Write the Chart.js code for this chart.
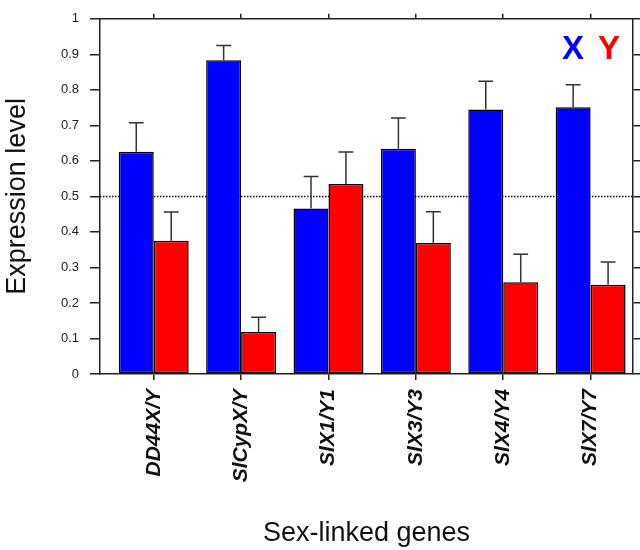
<!DOCTYPE html>
<html>
<head>
<meta charset="utf-8">
<script src="https://cdn.jsdelivr.net/npm/chart.js@4"></script>
<style>
  html, body { margin: 0; padding: 0; background: #ffffff; }
  #wrap { width: 640px; height: 550px; }
</style>
</head>
<body>
<div id="wrap"><canvas id="c" width="640" height="550"></canvas></div>
<script>
// ---- data ----
const CATEGORIES = ['DD44X/Y', 'SlCypX/Y', 'SlX1/Y1', 'SlX3/Y3', 'SlX4/Y4', 'SlX7/Y7'];
const SERIES_NAMES = ['X', 'Y'];
const X_VALUES = [0.626, 0.883, 0.466, 0.634, 0.745, 0.751];
const X_ERRORS = [0.081, 0.042, 0.090, 0.087, 0.079, 0.063];
const Y_VALUES = [0.375, 0.118, 0.535, 0.369, 0.258, 0.251];
const Y_ERRORS = [0.081, 0.042, 0.090, 0.088, 0.079, 0.064];
const Y_MIN = 0, Y_MAX = 1, Y_STEP = 0.1;
const REFERENCE_LEVEL = 0.5;
const Y_TITLE = 'Expression level';
const X_TITLE = 'Sex-linked genes';

const FONT = '"Liberation Sans", Arial, Helvetica, sans-serif';
const AXIS_COLOR = '#222222';

const ERRORS = [X_ERRORS, Y_ERRORS];
const VALUES = [X_VALUES, Y_VALUES];

const categoryTicks = (axis) => { axis.ticks = CATEGORIES.map((_, i) => ({ value: i })); };

const errorBarPlugin = {
  id: 'errorBars',
  afterDatasetsDraw(chart) {
    const ctx = chart.ctx;
    const yScale = chart.scales.y;
    ctx.save();
    ctx.strokeStyle = '#333333';
    ctx.lineWidth = 1.5;
    chart.data.datasets.forEach((ds, d) => {
      const meta = chart.getDatasetMeta(d);
      meta.data.forEach((bar, i) => {
        const top = yScale.getPixelForValue(VALUES[d][i] + ERRORS[d][i]);
        const half = 7.4;
        ctx.beginPath();
        ctx.moveTo(bar.x, bar.y);
        ctx.lineTo(bar.x, top);
        ctx.moveTo(bar.x - half, top);
        ctx.lineTo(bar.x + half, top);
        ctx.stroke();
      });
    });
    ctx.restore();
  }
};

const refLinePlugin = {
  id: 'refLine',
  beforeDatasetsDraw(chart) {
    const ctx = chart.ctx;
    const a = chart.chartArea;
    const y = chart.scales.y.getPixelForValue(REFERENCE_LEVEL);
    ctx.save();
    ctx.strokeStyle = '#111111';
    ctx.lineWidth = 1.5;
    ctx.setLineDash([1.5, 1.5]);
    ctx.beginPath();
    ctx.moveTo(a.left, y);
    ctx.lineTo(a.right, y);
    ctx.stroke();
    ctx.restore();
  }
};

const seriesKeyPlugin = {
  id: 'seriesKey',
  afterDraw(chart) {
    const ctx = chart.ctx;
    const a = chart.chartArea;
    ctx.save();
    ctx.font = 'bold 33px ' + FONT;
    ctx.textAlign = 'right';
    ctx.textBaseline = 'alphabetic';
    const ds = chart.data.datasets;
    let x = a.right - 13;
    for (let k = ds.length - 1; k >= 0; k--) {
      ctx.fillStyle = ds[k].backgroundColor;
      ctx.fillText(ds[k].label, x, a.top + 40);
      x -= ctx.measureText(ds[k].label).width + 14;
    }
    ctx.restore();
  }
};

new Chart(document.getElementById('c'), {
  type: 'bar',
  data: {
    datasets: [
      {
        label: SERIES_NAMES[0],
        data: X_VALUES.map((v, i) => ({ x: i, y: v })),
        backgroundColor: '#0000ff',
        borderColor: '#000000',
        borderWidth: 1.5,
        borderSkipped: false
      },
      {
        label: SERIES_NAMES[1],
        data: Y_VALUES.map((v, i) => ({ x: i, y: v })),
        backgroundColor: '#ff0000',
        borderColor: '#000000',
        borderWidth: 1.5,
        borderSkipped: false
      }
    ]
  },
  options: {
    responsive: false,
    animation: false,
    categoryPercentage: 0.8,
    barPercentage: 1.0,
    layout: { padding: 0 },
    plugins: {
      legend: { display: false },
      tooltip: { enabled: false }
    },
    scales: {
      x: {
        type: 'linear',
        position: 'bottom',
        min: -0.615,
        max: 5.485,
        offset: false,
        afterBuildTicks: categoryTicks,
        afterFit: (s) => { s.height = 176; },
        grid: { offset: false, drawOnChartArea: false, drawTicks: true, tickLength: 6, color: AXIS_COLOR, lineWidth: 1.5 },
        border: { display: true, color: AXIS_COLOR, width: 1.5 },
        ticks: {
          autoSkip: false,
          maxRotation: 90,
          minRotation: 90,
          padding: 9,
          color: '#111111',
          font: { family: FONT, size: 21, weight: 'bold', style: 'italic' },
          callback: (v) => CATEGORIES[v]
        },
        title: {
          display: true,
          text: X_TITLE,
          color: '#111111',
          padding: 0,
          font: { family: FONT, size: 27, lineHeight: 1.2 }
        }
      },
      x2: {
        type: 'linear',
        position: 'top',
        min: -0.615,
        max: 5.485,
        offset: false,
        afterBuildTicks: categoryTicks,
        afterFit: (s) => { s.height = 17; },
        grid: { offset: false, drawOnChartArea: false, drawTicks: true, tickLength: 5, color: AXIS_COLOR, lineWidth: 1.5 },
        border: { display: true, color: AXIS_COLOR, width: 1.5 },
        ticks: { display: false }
      },
      y: {
        type: 'linear',
        position: 'left',
        min: Y_MIN,
        max: Y_MAX,
        afterFit: (s) => { s.width = 100; },
        grid: { drawOnChartArea: false, drawTicks: true, tickLength: 10, color: AXIS_COLOR, lineWidth: 1.5 },
        border: { display: true, color: AXIS_COLOR, width: 1.5 },
        ticks: {
          stepSize: Y_STEP,
          padding: 11,
          color: '#222222',
          font: { family: FONT, size: 13 },
          callback: (v) => String(Math.round(v * 10) / 10)
        },
        title: {
          display: true,
          text: Y_TITLE,
          color: '#111111',
          padding: 1,
          font: { family: FONT, size: 27, lineHeight: 1.2 }
        }
      },
      y2: {
        type: 'linear',
        position: 'right',
        min: Y_MIN,
        max: Y_MAX,
        afterFit: (s) => { s.width = 7; },
        grid: { drawOnChartArea: false, drawTicks: true, tickLength: 7, color: AXIS_COLOR, lineWidth: 1.5 },
        border: { display: true, color: AXIS_COLOR, width: 1.5 },
        ticks: { display: false, stepSize: Y_STEP }
      }
    }
  },
  plugins: [refLinePlugin, errorBarPlugin, seriesKeyPlugin]
});
</script>
</body>
</html>
